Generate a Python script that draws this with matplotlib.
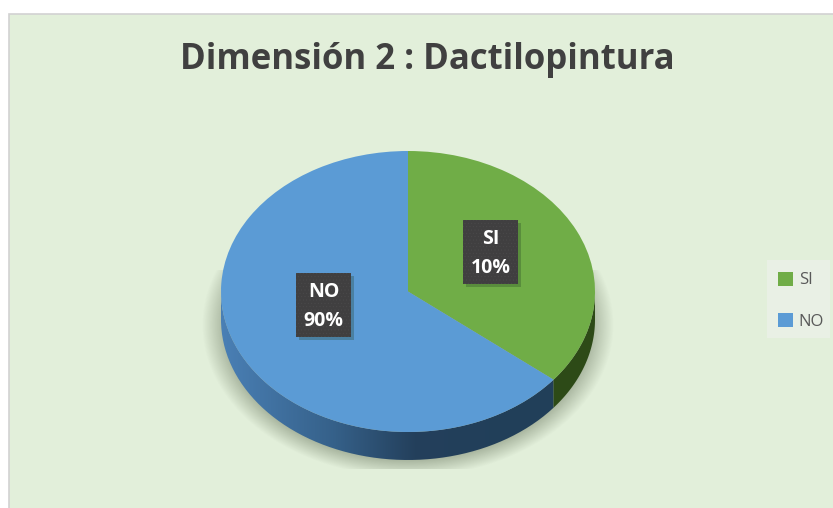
import numpy as np
import matplotlib
matplotlib.use("Agg")
import matplotlib.pyplot as plt
from matplotlib.patches import Rectangle, PathPatch
from matplotlib.path import Path

plt.rcParams['font.family'] = ['Open Sans', 'DejaVu Sans']
plt.rcParams['hatch.linewidth'] = 0.3

# the drawn slices do not follow the printed percentages in the original
categories = ["SI", "NO"]
printed_pct = ["10%", "90%"]
drawn_share = [35.8, 64.2]
slice_colors = ["#70ad47", "#5b9bd5"]
title = "Dimensión 2 : Dactilopintura"

W, H = 833, 508
cx, cy, rx, ry = 408, 291.5, 187, 140.5
depth = 28 / ry

fig = plt.figure(figsize=(W / 100, H / 100), dpi=100, facecolor="white")

# background layer in pixel coordinates
bg = fig.add_axes([0, 0, 1, 1])
bg.add_patch(Rectangle((9.5, 13.5), W, H, facecolor="#e2efda", edgecolor="#d2d2d2", lw=1.2, zorder=0))

# soft shadow under the pie
xx, yy = np.meshgrid(np.arange(200, 620), np.arange(270, 469))
r = np.sqrt(((xx + 0.5 - cx) / 206) ** 2 + ((yy + 0.5 - 325) / 152) ** 2)
alpha = 0.38 * np.clip((1 - r) / 0.12, 0, 1)
rgba = np.zeros(xx.shape + (4,))
rgba[..., :3] = np.array([0.25, 0.3, 0.2])
rgba[..., 3] = alpha
bg.imshow(rgba, extent=(200, 620, 469, 270), aspect="auto", interpolation="bilinear", zorder=1)
bg.set_xlim(0, W)
bg.set_ylim(H, 0)
bg.axis("off")

# pie layer, unit circle stretched to an ellipse
ax = fig.add_axes([0, 0, 1, 1], zorder=1)
ax.patch.set_alpha(0)
xlim = (-cx / rx, (W - cx) / rx)
ylim = ((cy - H) / ry, cy / ry)

theta_end = 360 + 90 - 3.6 * drawn_share[0]


def side_path(a0, a1):
    t = np.radians(np.linspace(a0, a1, 120))
    arc = np.column_stack([np.cos(t), np.sin(t)])
    low = arc[::-1] - [0, depth]
    return Path(np.vstack([arc, low, arc[:1]]))


# blue side with a gradient, dark green side flat
grad = np.array([[0.29, 0.50, 0.71], [0.21, 0.38, 0.54], [0.14, 0.25, 0.36], [0.13, 0.25, 0.35], [0.13, 0.25, 0.35]])
pos = np.linspace(0, 1, 256)
stops = [0, 0.3, 0.52, 0.8, 1]
ramp = np.column_stack([np.interp(pos, stops, grad[:, i]) for i in range(3)])[None, :, :]
im = ax.imshow(ramp, extent=(-1, 1, -1.3, 0), aspect="auto", zorder=1)
blue_side = PathPatch(side_path(180, theta_end), fc="none", ec="none")
ax.add_patch(blue_side)
im.set_clip_path(blue_side)
ax.add_patch(PathPatch(side_path(theta_end, 360), fc="#2d4a17", ec="none", zorder=1))

wedges, _ = ax.pie(drawn_share, colors=slice_colors, startangle=90, counterclock=False,
                   radius=1, center=(0, 0), frame=True, wedgeprops={"zorder": 2, "lw": 0})
ax.set_aspect("auto")
ax.set_xlim(xlim)
ax.set_ylim(ylim)
ax.axis("off")

# labels and legend layer
top = fig.add_axes([0, 0, 1, 1], zorder=2)
top.patch.set_alpha(0)
top.set_xlim(0, W)
top.set_ylim(H, 0)
top.axis("off")

top.text(427, 60, title, ha="center", va="center", fontsize=25, fontweight="bold", color="#404040")

label_pos = [(490.5, 252), (323.5, 305)]
for (lx, ly), cat, pct in zip(label_pos, categories, printed_pct):
    top.add_patch(Rectangle((lx - 27.5 + 3, ly - 32 + 3), 55, 64, fc="#1f3a20", ec="none", alpha=0.28))
    top.add_patch(Rectangle((lx - 27.5, ly - 32), 55, 64, fc="#403f40", ec="#4b4a4b", lw=0, hatch="....."))
    top.text(lx, ly - 13, cat, ha="center", va="center", color="white", fontsize=14, fontweight="bold")
    top.text(lx, ly + 16, pct, ha="center", va="center", color="white", fontsize=14, fontweight="bold")

top.add_patch(Rectangle((767, 260), 63, 78, fc="#e9f0e5", ec="none"))
leg = top.legend(wedges, categories, loc="center left", bbox_to_anchor=(767 / W, 1 - 301 / H),
                 bbox_transform=fig.transFigure, frameon=False, fontsize=12, labelcolor="#595959",
                 handlelength=0.9, handleheight=0.9, handletextpad=0.35, labelspacing=1.5,
                 borderpad=0, borderaxespad=0.65)

fig.savefig("out.png", dpi=100, facecolor=fig.get_facecolor())
